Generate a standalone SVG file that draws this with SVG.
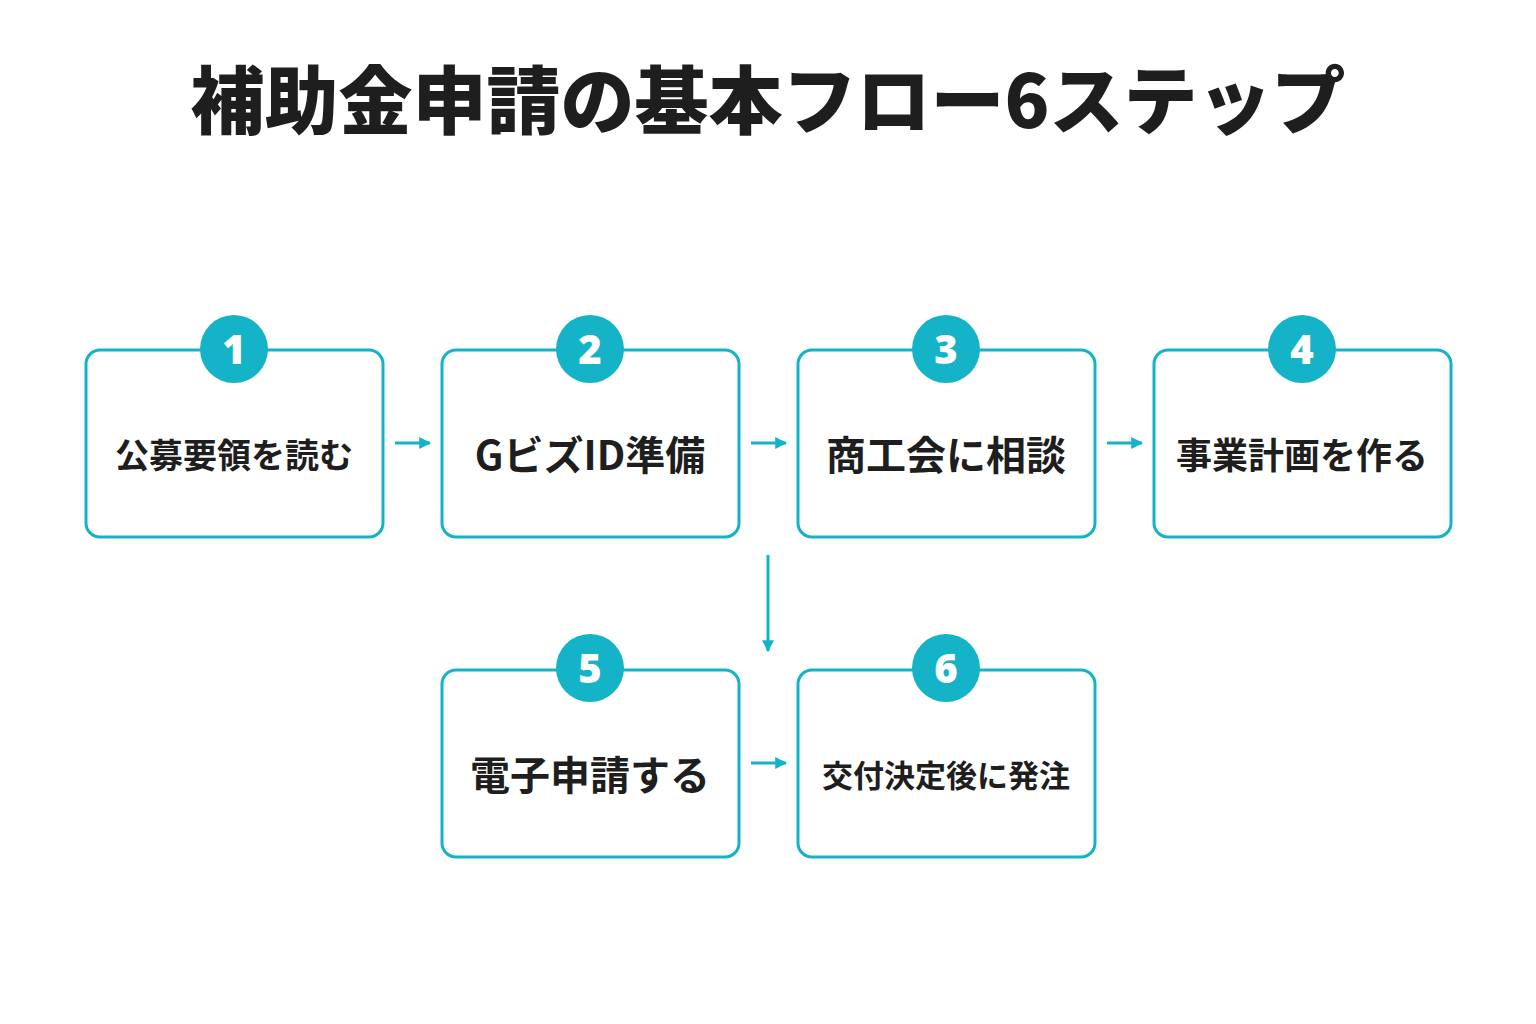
<svg xmlns="http://www.w3.org/2000/svg" width="1536" height="1024" viewBox="0 0 1536 1024">
<style>
.box{fill:#fff;stroke:#14b3c7;stroke-width:3}
.num{fill:#14b3c7}
.nt{fill:#fff;font-family:"Noto Sans","Noto Sans CJK JP",sans-serif;font-weight:900;font-size:40px;text-anchor:middle}
.lb{fill:#1e1e1e;font-family:"Noto Sans CJK JP",sans-serif;font-weight:700;text-anchor:middle}
.cn{stroke:#14b3c7;stroke-width:3;fill:none;marker-end:url(#ah)}
</style>
<defs><marker id="ah" viewBox="0 0 10 10" refX="9" refY="5" markerWidth="4" markerHeight="4" orient="auto" markerUnits="strokeWidth"><path d="M0,0L10,5L0,10z" fill="#14b3c7"/></marker></defs>
<rect width="1536" height="1024" fill="#fff"/>
<text x="768" y="128" text-anchor="middle" font-family="Noto Sans CJK JP,sans-serif" font-weight="900" font-size="74" fill="#1e1e1e">補助金申請の基本フロー6ステップ</text>
<g id="connectors">
<path class="cn" d="M395 443H430"/>
<path class="cn" d="M751 443H786"/>
<path class="cn" d="M1107 443H1142"/>
<path class="cn" d="M768 555V651"/>
<path class="cn" d="M751 763H786"/>
</g>
<g id="n1"><rect class="box" x="86" y="350" width="297" height="187" rx="14"/><circle class="num" cx="234" cy="349" r="34"/><text class="nt" x="234" y="364">1</text><text class="lb" x="234" y="468" font-size="34">公募要領を読む</text></g>
<g id="n2"><rect class="box" x="442" y="350" width="297" height="187" rx="14"/><circle class="num" cx="590" cy="349" r="34"/><text class="nt" x="590" y="364">2</text><text class="lb" x="590" y="470" font-size="40">GビズID準備</text></g>
<g id="n3"><rect class="box" x="798" y="350" width="297" height="187" rx="14"/><circle class="num" cx="946" cy="349" r="34"/><text class="nt" x="946" y="364">3</text><text class="lb" x="946" y="470" font-size="40">商工会に相談</text></g>
<g id="n4"><rect class="box" x="1154" y="350" width="297" height="187" rx="14"/><circle class="num" cx="1302" cy="349" r="34"/><text class="nt" x="1302" y="364">4</text><text class="lb" x="1302" y="469" font-size="36">事業計画を作る</text></g>
<g id="n5"><rect class="box" x="442" y="670" width="297" height="187" rx="14"/><circle class="num" cx="590" cy="668" r="34"/><text class="nt" x="590" y="683">5</text><text class="lb" x="590" y="790" font-size="40">電子申請する</text></g>
<g id="n6"><rect class="box" x="798" y="670" width="297" height="187" rx="14"/><circle class="num" cx="946" cy="668" r="34"/><text class="nt" x="946" y="683">6</text><text class="lb" x="946" y="787" font-size="31">交付決定後に発注</text></g>
</svg>
